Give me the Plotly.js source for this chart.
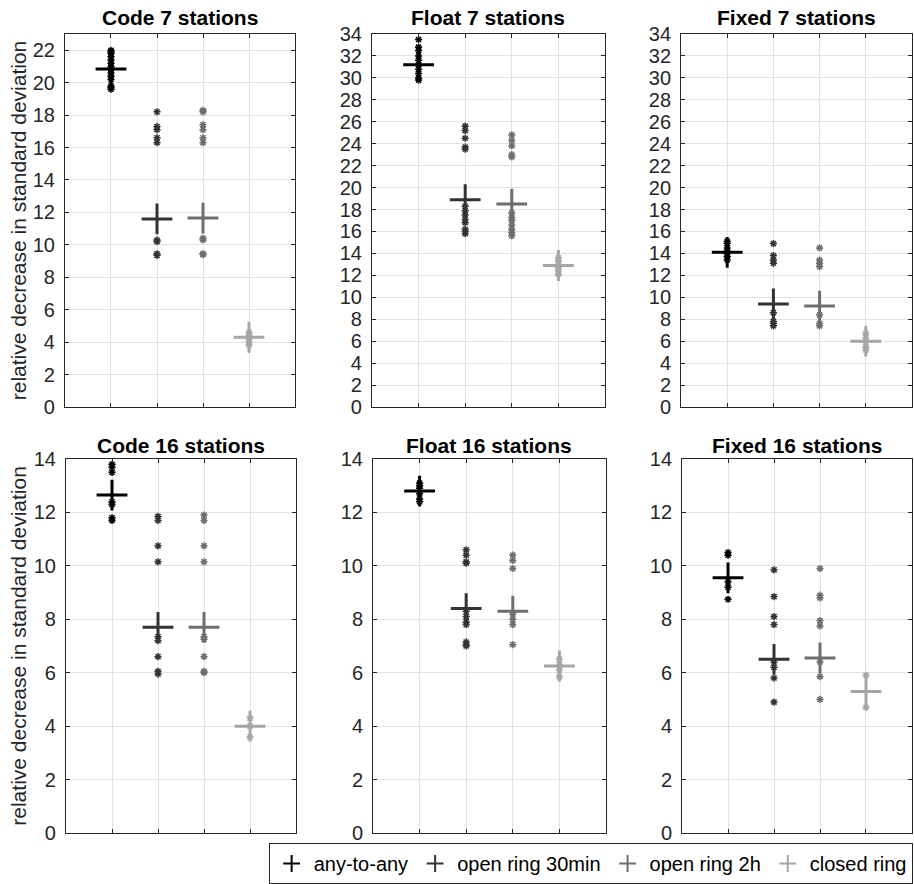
<!DOCTYPE html>
<html><head><meta charset="utf-8">
<script src="https://cdn.plot.ly/plotly-3.0.1.min.js"></script>
<style>html,body{margin:0;padding:0;background:#fff}#chart{width:914px;height:884px}</style>
</head><body><div id="chart"></div>
<script>
// categories (x positions) and panels
const methods = ['any-to-any', 'open ring 30min', 'open ring 2h', 'closed ring'];
const panelTitles = ['Code 7 stations', 'Float 7 stations', 'Fixed 7 stations',
                     'Code 16 stations', 'Float 16 stations', 'Fixed 16 stations'];
const yRangeMax = [23, 34, 34, 14, 14, 14];

// ---- Code 7 stations ----
const code7_any    = [22.0, 21.9, 21.8, 21.6, 21.4, 21.2, 21.0, 20.8, 20.6, 20.4, 20.2, 19.8, 19.7, 19.6];
const code7_or30   = [18.2, 17.3, 17.1, 16.6, 16.3, 10.3, 10.2, 9.45, 9.35];
const code7_or2h   = [18.3, 18.2, 17.4, 17.1, 16.6, 16.3, 10.4, 10.3, 9.45, 9.4];
const code7_closed = [4.6, 4.4, 4.2, 4.0, 3.8];
const code7_mean   = [20.85, 11.6, 11.65, 4.3];

// ---- Float 7 stations ----
const float7_any    = [33.5, 32.8, 32.5, 32.0, 31.6, 31.2, 30.8, 30.4, 30.0, 29.8];
const float7_or30   = [25.6, 25.2, 24.5, 23.7, 23.5, 18.3, 17.9, 17.5, 17.1, 16.8, 16.2, 16.0, 15.8];
const float7_or2h   = [24.8, 24.3, 23.8, 23.0, 22.8, 17.7, 17.3, 17.0, 16.6, 16.2, 15.9, 15.6];
const float7_closed = [13.6, 13.3, 13.0, 12.7, 12.4, 12.1];
const float7_mean   = [31.2, 18.9, 18.5, 12.9];

// ---- Fixed 7 stations ----
const fixed7_any    = [15.1, 14.9, 14.5, 14.2, 14.0, 13.7, 13.4];
const fixed7_or30   = [14.9, 13.8, 13.4, 13.1, 8.6, 7.8, 7.6, 7.4];
const fixed7_or2h   = [14.5, 13.4, 13.1, 12.8, 8.4, 7.6, 7.4];
const fixed7_closed = [6.7, 6.3, 5.9, 5.5, 5.2];
const fixed7_mean   = [14.1, 9.4, 9.2, 6.0];

// ---- Code 16 stations ----
const code16_any    = [13.8, 13.7, 13.5, 12.4, 12.3, 11.8, 11.7];
const code16_or30   = [11.85, 11.7, 10.75, 10.15, 7.35, 7.2, 6.6, 6.05, 5.95];
const code16_or2h   = [11.9, 11.7, 10.75, 10.15, 7.35, 7.25, 6.6, 6.05, 6.0];
const code16_closed = [4.3, 4.0, 3.6];
const code16_mean   = [12.65, 7.7, 7.7, 4.0];

// ---- Float 16 stations ----
const float16_any    = [13.1, 13.0, 12.9, 12.7, 12.5, 12.4];
const float16_or30   = [10.6, 10.4, 10.15, 10.1, 8.3, 8.1, 7.9, 7.8, 7.15, 7.05, 7.0];
const float16_or2h   = [10.4, 10.2, 9.9, 8.2, 8.0, 7.8, 7.05];
const float16_closed = [6.5, 6.3, 6.1, 5.85];
const float16_mean   = [12.8, 8.4, 8.3, 6.25];

// ---- Fixed 16 stations ----
const fixed16_any    = [10.5, 10.4, 9.4, 9.2, 8.75];
const fixed16_or30   = [9.85, 8.85, 8.1, 7.8, 6.4, 6.2, 5.8, 4.9];
const fixed16_or2h   = [9.9, 8.9, 8.8, 7.95, 7.75, 6.4, 5.85, 5.0];
const fixed16_closed = [5.9, 4.7];
const fixed16_mean   = [9.55, 6.5, 6.55, 5.3];

const panelPoints = [
  [code7_any, code7_or30, code7_or2h, code7_closed],
  [float7_any, float7_or30, float7_or2h, float7_closed],
  [fixed7_any, fixed7_or30, fixed7_or2h, fixed7_closed],
  [code16_any, code16_or30, code16_or2h, code16_closed],
  [float16_any, float16_or30, float16_or2h, float16_closed],
  [fixed16_any, fixed16_or30, fixed16_or2h, fixed16_closed]
];
const panelMeans = [code7_mean, float7_mean, fixed7_mean, code16_mean, float16_mean, fixed16_mean];

// ---- styling / layout ----
const colors = ['#000000', '#333333', '#6e6e6e', '#a6a6a6'];
const FONT = 'Liberation Sans, Arial, Helvetica, sans-serif';
const xDomTop = [[0.0711, 0.3228], [0.4070, 0.6619], [0.7451, 0.9978]];
const xDomBot = [[0.0722, 0.3239], [0.4081, 0.6630], [0.7462, 0.9978]];
const yDomTop = [0.5396, 0.9615];
const yDomBot = [0.0577, 0.4808];

const traces = [];
const layout = {
  width: 914, height: 884,
  margin: {l: 0, r: 0, t: 0, b: 0},
  paper_bgcolor: '#ffffff', plot_bgcolor: '#ffffff',
  font: {family: FONT, color: '#262626'},
  showlegend: true,
  legend: {
    orientation: 'h', x: 0.9985, xanchor: 'right', y: 0.0, yanchor: 'bottom',
    bordercolor: '#262626', borderwidth: 1, bgcolor: '#ffffff',
    font: {family: FONT, size: 20, color: '#000000'},
    itemwidth: 34, itemsizing: 'constant', traceorder: 'normal'
  },
  annotations: []
};

for (let p = 0; p < 6; p++) {
  const k = p + 1;
  const xa = 'x' + (k === 1 ? '' : k), ya = 'y' + (k === 1 ? '' : k);
  const top = p < 3;
  const xd = top ? xDomTop[p] : xDomBot[p - 3];
  const yd = top ? yDomTop : yDomBot;
  layout['xaxis' + (k === 1 ? '' : k)] = {
    domain: xd, anchor: ya, type: 'category', categoryorder: 'array', categoryarray: methods,
    range: [-1, 4], showticklabels: false, ticks: 'inside', ticklen: 4, tickcolor: '#262626',
    showline: true, linecolor: '#262626', linewidth: 1, mirror: 'ticks',
    showgrid: true, gridcolor: '#e2e2e2', gridwidth: 1, zeroline: false, fixedrange: true
  };
  layout['yaxis' + (k === 1 ? '' : k)] = {
    domain: yd, anchor: xa, range: [0, yRangeMax[p]], tick0: 0, dtick: 2,
    ticks: 'inside', ticklen: 4, tickcolor: '#262626', ticklabelstandoff: 5,
    tickfont: {family: FONT, size: 20, color: '#262626'},
    showline: true, linecolor: '#262626', linewidth: 1, mirror: 'ticks',
    showgrid: true, gridcolor: '#e2e2e2', gridwidth: 1, zeroline: false, fixedrange: true
  };
  layout.annotations.push({
    text: '<b>' + panelTitles[p] + '</b>', xref: 'paper', yref: 'paper',
    x: (xd[0] + xd[1]) / 2, y: top ? 0.9805 : 0.4966, xanchor: 'center', yanchor: 'middle',
    showarrow: false, font: {family: FONT, size: 21, color: '#000000'}
  });
  for (let m = 0; m < 4; m++) {
    const vals = panelPoints[p][m];
    traces.push({
      type: 'scatter', mode: 'markers', xaxis: xa, yaxis: ya,
      x: vals.map(() => methods[m]), y: vals, showlegend: false, hoverinfo: 'y',
      marker: {symbol: 'asterisk-open', size: 6, color: colors[m], line: {color: colors[m], width: 1.5}}
    });
  }
  for (let m = 0; m < 4; m++) {
    traces.push({
      type: 'scatter', mode: 'markers', xaxis: xa, yaxis: ya, name: methods[m],
      x: [methods[m]], y: [panelMeans[p][m]], showlegend: p === 0, legendrank: m + 1,
      marker: {symbol: 'cross-thin-open', size: 22, color: colors[m], line: {color: colors[m], width: 3}}
    });
  }
}

// y axis labels (left column)
[yDomTop, yDomBot].forEach(yd => {
  layout.annotations.push({
    text: 'relative decrease in standard deviation', xref: 'paper', yref: 'paper',
    x: 0.0205, y: (yd[0] + yd[1]) / 2, xanchor: 'center', yanchor: 'middle', textangle: -90,
    showarrow: false, font: {family: FONT, size: 21, color: '#262626'}
  });
});

Plotly.newPlot('chart', traces, layout, {displayModeBar: false, staticPlot: true});
</script>
</body></html>
